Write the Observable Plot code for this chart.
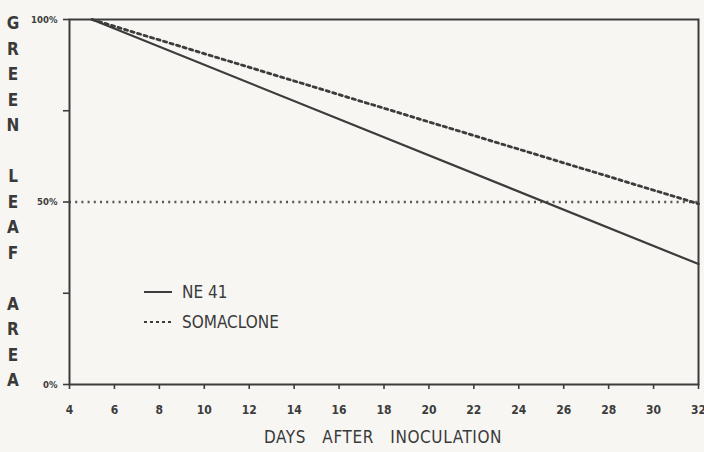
<!DOCTYPE html>
<html>
<head>
<meta charset="utf-8">
<script src="https://cdn.jsdelivr.net/npm/d3@7"></script>
<script src="https://cdn.jsdelivr.net/npm/@observablehq/plot@0.6"></script>
<style>
  html, body { margin: 0; padding: 0; background: #f7f6f2; }
  #wrap { position: relative; width: 704px; height: 452px; overflow: hidden; font-family: "DejaVu Sans Condensed", "DejaVu Sans", sans-serif; color: #3a3a3a; }
  #ylabel { position: absolute; left: 5px; top: 11px; width: 16px; text-align: center; font-size: 17px; font-weight: bold; line-height: 25.5px; white-space: pre; }
  #xlabel { position: absolute; left: 0; width: 766px; top: 427px; text-align: center; font-size: 17px; letter-spacing: 0.6px; white-space: pre; }
  #legend { position: absolute; left: 143px; top: 277px; font-size: 17px; line-height: 30px; }
  #legend div { display: flex; align-items: center; }
  #legend svg { margin-right: 9px; }
  #chart { position: absolute; left: 0; top: 0; }
</style>
</head>
<body>
<div id="wrap">
  <div id="chart"></div>
  <div id="ylabel"></div>
  <div id="legend"></div>
  <div id="xlabel"></div>
</div>
<script>
// ---- data ----
const days = [5, 32];
const ne41 = [100, 33];
const somaclone = [100, 49.5];
const referenceLevel = [50];
const xTicks = [4, 6, 8, 10, 12, 14, 16, 18, 20, 22, 24, 26, 28, 30, 32];
const yTicks = [0, 25, 50, 75, 100];
const yTickLabels = ["0%", "", "50%", "", "100%"];
const seriesNames = ["NE 41", "SOMACLONE"];
const yTitle = "GREEN LEAF AREA";
const xTitle = "DAYS AFTER INOCULATION";

const ink = "#3c3c3c";
const lineData = [
  ...days.map((d, i) => ({day: d, value: ne41[i], series: seriesNames[0]})),
  ...days.map((d, i) => ({day: d, value: somaclone[i], series: seriesNames[1]}))
];

const chart = Plot.plot({
  width: 704,
  height: 420,
  marginLeft: 69,
  marginRight: 6,
  marginTop: 19,
  marginBottom: 36,
  style: {background: "transparent", fontFamily: "\"DejaVu Sans Condensed\", sans-serif", color: ink},
  x: {domain: [4, 32]},
  y: {domain: [0, 100]},
  marks: [
    Plot.ruleY(referenceLevel, {stroke: ink, strokeWidth: 2.4, strokeDasharray: "2,4.2", strokeOpacity: 0.85}),
    Plot.line(lineData.filter(d => d.series === seriesNames[0]), {x: "day", y: "value", stroke: ink, strokeWidth: 2.2}),
    Plot.line(lineData.filter(d => d.series === seriesNames[1]), {x: "day", y: "value", stroke: ink, strokeWidth: 2.8, strokeDasharray: "3.2,3.6"}),
    Plot.frame({stroke: ink, strokeWidth: 2}),
    Plot.axisX({ticks: xTicks, tickSize: 5, tickPadding: 16, tickFormat: d => String(d), fontSize: 12, fontWeight: "bold", stroke: ink, strokeWidth: 1.6, label: null, fill: ink}),
    Plot.axisY({ticks: yTicks, tickSize: 6, tickPadding: 6, tickFormat: d => yTickLabels[yTicks.indexOf(d)], fontSize: 9.5, fontWeight: "bold", stroke: ink, strokeWidth: 1.6, label: null, fill: ink})
  ]
});
document.getElementById("chart").appendChild(chart);

// vertical axis title, one letter per line
document.getElementById("ylabel").textContent = yTitle.split(" ").map(w => w.split("").join("\n")).join("\n\n");
document.getElementById("xlabel").textContent = xTitle.split(" ").join("   ");

// legend
const legend = document.getElementById("legend");
const dashes = [null, "3,3"];
seriesNames.forEach((name, i) => {
  const row = document.createElement("div");
  row.innerHTML = `<svg width="30" height="10"><line x1="1" y1="5" x2="29" y2="5" stroke="${ink}" stroke-width="2" ${dashes[i] ? `stroke-dasharray="${dashes[i]}"` : ""}/></svg><span>${name}</span>`;
  legend.appendChild(row);
});
</script>
</body>
</html>
